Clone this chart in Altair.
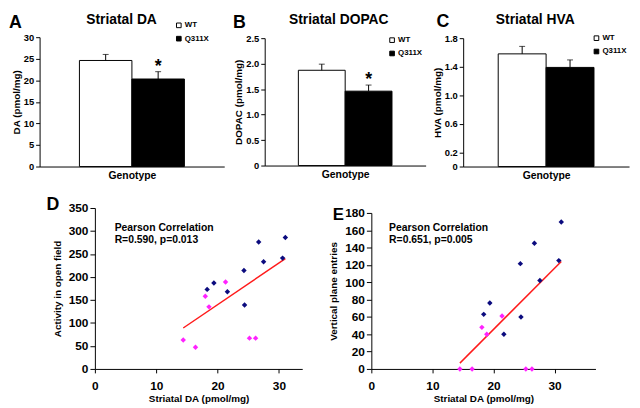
import altair as alt
import pandas as pd

# ---------------- data ----------------
genotypes = ["WT", "Q311X"]
da_mean = [24.6, 20.3]
da_upper = [26.0, 22.0]
dopac_mean = [1.87, 1.46]
dopac_upper = [1.99, 1.58]
hva_mean = [1.58, 1.39]
hva_upper = [1.685, 1.495]

# panel D: striatal DA vs activity in open field
d_wt_da = [31.05, 26.7, 30.6, 27.5, 24.3, 19.4, 18.3, 21.6, 24.4]
d_wt_act = [286, 276, 241, 233, 214, 187, 173, 168, 139]
d_mut_da = [21.3, 18.0, 18.6, 14.4, 16.4, 25.2, 26.2]
d_mut_act = [189, 158, 135, 63, 47, 67, 67]
d_fit_da = [14.4, 31.05]
d_fit_act = [89, 240]

# panel E: striatal DA vs vertical plane entries
e_wt_da = [31.1, 26.7, 30.7, 27.6, 24.4, 19.4, 18.4, 24.5, 21.7]
e_wt_vpe = [169.5, 145, 125, 102, 121.5, 76, 63, 60, 40]
e_mut_da = [21.4, 18.1, 18.9, 14.5, 16.5, 25.3, 26.3]
e_mut_vpe = [61, 48, 40, 0, 0, 0, 0]
e_fit_da = [14.5, 31.1]
e_fit_vpe = [6.7, 124]

# ---------------- layout helpers ----------------
W, H = 632, 400
FONT = "Liberation Sans"
NAVY = "#0b0b7e"
MAGENTA = "#ff22ff"

AXIS_STYLE = dict(grid=False, domainColor="black", tickColor="black",
                  labelColor="black", titleColor="black", labelFont=FONT,
                  titleFont=FONT, labelFontWeight="bold", titleFontWeight="bold",
                  domainWidth=1, tickWidth=1, labelFlush=False)


def X(r):
    return round(r * W / 640)


def Y(r):
    return round(r * H / 408)


ONE_DEC = "datum.value == 0 ? '0' : format(datum.value, '.1f')"


def bar_panel(mean, upper, left, right, bottom, top, ymax, ticks, ytitle,
              pad, lx, ly, star, label_expr=None):
    df = pd.DataFrame({"Genotype": genotypes, "mean": mean, "upper": upper})
    xsc = alt.Scale(domain=genotypes, range=[X(left), X(right)],
                    paddingInner=0, paddingOuter=pad)
    xax = alt.Axis(orient="bottom", offset=Y(bottom) - H, title="Genotype",
                   labels=False, ticks=False, titleFontSize=10.5, titlePadding=4,
                   **AXIS_STYLE)
    ysc = alt.Scale(domain=[0, ymax], range=[Y(bottom), Y(top)], nice=False, zero=True)
    yargs = dict(orient="left", offset=-X(left), title=ytitle, values=ticks,
                 tickSize=4, labelPadding=2, labelFontSize=9.5, titleFontSize=10,
                 titlePadding=2, **AXIS_STYLE)
    if label_expr:
        yargs["labelExpr"] = label_expr
    yax = alt.Axis(**yargs)
    x = alt.X("Genotype:N", scale=xsc, axis=xax, sort=genotypes)
    bars = alt.Chart(df).mark_bar(stroke="black", strokeWidth=1).encode(
        x=x,
        y=alt.Y("mean:Q", scale=ysc, axis=yax),
        color=alt.Color("Genotype:N", sort=genotypes,
                        scale=alt.Scale(domain=genotypes, range=["white", "black"]),
                        legend=alt.Legend(orient="none", legendX=X(lx), legendY=Y(ly),
                                          title=None, direction="vertical",
                                          symbolType="square", symbolSize=22,
                                          symbolStrokeColor="black", symbolStrokeWidth=1,
                                          labelFontSize=8, labelFontWeight="bold",
                                          labelFont=FONT, labelColor="black",
                                          labelOffset=2, rowPadding=3.5, padding=0,
                                          offset=0)),
    )
    err = alt.Chart(df).mark_rule(color="black", strokeWidth=1).encode(
        x=x, y=alt.Y("mean:Q", scale=ysc, axis=yax), y2="upper:Q")
    cap = alt.Chart(df).mark_tick(color="black", size=6, thickness=1).encode(
        x=x, y=alt.Y("upper:Q", scale=ysc, axis=yax))
    layers = [bars, err, cap]
    if star:
        sdf = df[df["Genotype"] == "Q311X"]
        layers.append(
            alt.Chart(sdf).mark_text(text="*", fontSize=18, fontWeight="bold",
                                     font=FONT, color="black", baseline="alphabetic",
                                     dy=0).encode(
                x=x, y=alt.Y("upper:Q", scale=ysc, axis=yax)))
    return alt.layer(*layers)


def scatter_panel(wt_x, wt_y, mut_x, mut_y, fit_x, fit_y, left, right, bottom, top,
                  xmax, ymax, yticks, ytitle):
    xsc = alt.Scale(domain=[0, xmax], range=[X(left), X(right)], nice=False, zero=True)
    xax = alt.Axis(orient="bottom", offset=Y(bottom) - H, values=[0, 10, 20, 30],
                   title="Striatal DA (pmol/mg)", tickSize=4, labelPadding=8,
                   labelFontSize=12, titleFontSize=10, titlePadding=2,
                   **AXIS_STYLE)
    ysc = alt.Scale(domain=[0, ymax], range=[Y(bottom), Y(top)], nice=False, zero=True)
    yax = alt.Axis(orient="left", offset=-X(left), values=yticks, title=ytitle,
                   tickSize=5, labelPadding=2, labelFontSize=12, titleFontSize=10,
                   titlePadding=6, **AXIS_STYLE)
    fit = alt.Chart(pd.DataFrame({"da": fit_x, "v": fit_y})).mark_line(
        color="#ff1a1a", strokeWidth=1.5).encode(
        x=alt.X("da:Q", scale=xsc, axis=xax), y=alt.Y("v:Q", scale=ysc, axis=yax))
    wt = alt.Chart(pd.DataFrame({"da": wt_x, "v": wt_y})).mark_point(
        shape="diamond", filled=True, size=30, color=NAVY, opacity=1).encode(
        x=alt.X("da:Q", scale=xsc, axis=xax), y=alt.Y("v:Q", scale=ysc, axis=yax))
    mut = alt.Chart(pd.DataFrame({"da": mut_x, "v": mut_y})).mark_point(
        shape="diamond", filled=True, size=30, color=MAGENTA, opacity=1).encode(
        x=alt.X("da:Q", scale=xsc, axis=xax), y=alt.Y("v:Q", scale=ysc, axis=yax))
    return alt.layer(fit, mut, wt)


def note(text, x, y, size, align="left"):
    return alt.Chart(pd.DataFrame({"k": [0]})).mark_text(
        text=text, fontSize=size, fontWeight="bold", font=FONT, color="black",
        align=align, baseline="alphabetic").encode(
        x=alt.value(X(x)), y=alt.value(Y(y)))


panel_a = bar_panel(da_mean, da_upper, 32, 222, 161.3, 27.7, 30,
                    [0, 5, 10, 15, 20, 25, 30], "DA (pmol/mg)", 0.759, 171, 11, True)
panel_b = bar_panel(dopac_mean, dopac_upper, 263.3, 428.3, 160, 28.3, 2.5,
                    [0, 0.5, 1.0, 1.5, 2.0, 2.5], "DOPAC (pmol/mg)", 0.719, 390, 26.5, True,
                    ONE_DEC)
panel_c = bar_panel(hva_mean, hva_upper, 466.7, 637, 160.7, 28.3, 1.8,
                    [0, 0.2, 0.6, 1.0, 1.4, 1.8], "HVA (pmol/mg)", 0.732, 599, 24, False,
                    ONE_DEC)
panel_d = scatter_panel(d_wt_da, d_wt_act, d_mut_da, d_mut_act, d_fit_da, d_fit_act,
                        89.3, 301.7, 370.7, 203.9, 33.8, 350,
                        [0, 50, 100, 150, 200, 250, 300, 350], "Activity in open field")
panel_e = scatter_panel(e_wt_da, e_wt_vpe, e_mut_da, e_mut_vpe, e_fit_da, e_fit_vpe,
                        372.3, 602.3, 370.7, 209.3, 36.7, 180,
                        [0, 20, 40, 60, 80, 100, 120, 140, 160, 180], "Vertical plane entries")

notes = [
    note("A", 1, 18.3, 18), note("B", 230.7, 18.3, 18), note("C", 440, 17.5, 18),
    note("D", 39, 206, 18), note("E", 333, 216.7, 17),
    note("Striatal DA", 116.7, 14.5, 14, "center"),
    note("Striatal DOPAC", 339, 14.5, 14, "center"),
    note("Striatal HVA", 541, 14.5, 14, "center"),
    note("Pearson Correlation", 109, 227.5, 10.5),
    note("R=0.590, p=0.013", 109, 239.5, 10.5),
    note("Pearson Correlation", 391, 227.5, 10.5),
    note("R=0.651, p=0.005", 391, 239.5, 10.5),
]

chart = alt.layer(panel_a, panel_b, panel_c, panel_d, panel_e, *notes).resolve_scale(
    x="independent", y="independent", color="independent"
).properties(
    width=W, height=H, padding=0, autosize=alt.AutoSizeParams(type="none"),
    background="white"
).configure(
    font=FONT
).configure_view(
    stroke=None
)

chart.save("out.html", embed_options={"renderer": "svg", "actions": False})
